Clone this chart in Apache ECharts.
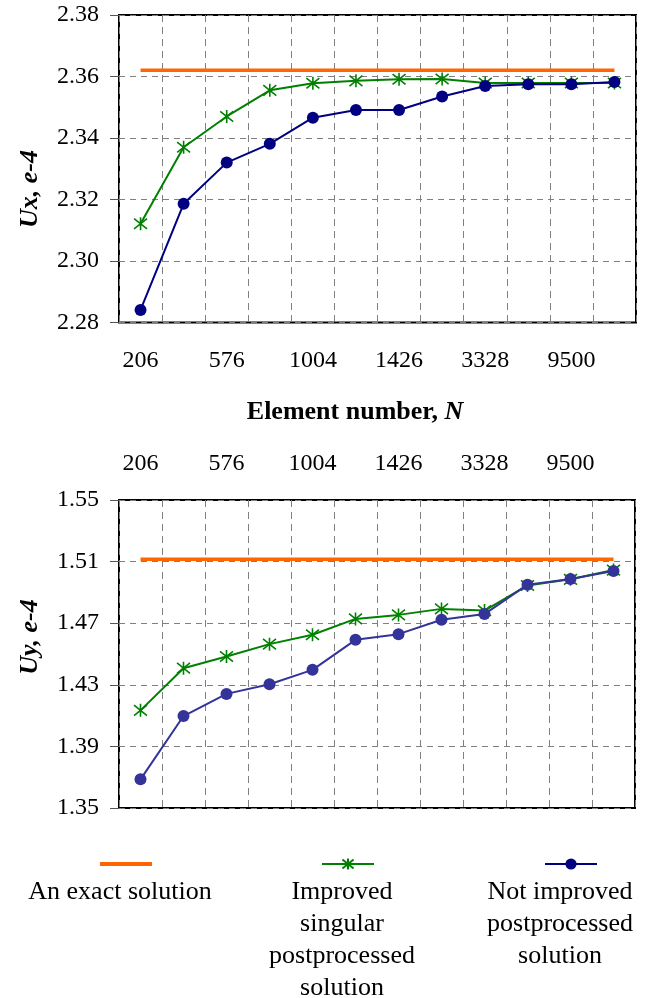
<!DOCTYPE html>
<html>
<head>
<meta charset="utf-8">
<script src="https://cdn.jsdelivr.net/npm/echarts@6/dist/echarts.min.js"></script>
<style>
  html, body { margin: 0; padding: 0; background: #fff; }
  #chart { width: 645px; height: 998px; }
</style>
</head>
<body>
<div id="chart"></div>
<script>
// element numbers (only every other one is labelled in the figure)
const categories = ['206', '', '576', '', '1004', '', '1426', '', '3328', '', '9500', ''];

// Ux, e-4
const uxExact = [2.362, 2.362, 2.362, 2.362, 2.362, 2.362, 2.362, 2.362, 2.362, 2.362, 2.362, 2.362];
const uxImproved = [2.3121, 2.3370, 2.3470, 2.3555, 2.3578, 2.3586, 2.3591, 2.3592, 2.3579, 2.3579, 2.3579, 2.3579];
const uxNotImproved = [2.2841, 2.3186, 2.3320, 2.3381, 2.3466, 2.3491, 2.3491, 2.3535, 2.3569, 2.3575, 2.3575, 2.3582];

// Uy, e-4
const uyExact = [1.5115, 1.5115, 1.5115, 1.5115, 1.5115, 1.5115, 1.5115, 1.5115, 1.5115, 1.5115, 1.5115, 1.5115];
const uyImproved = [1.4134, 1.4408, 1.4484, 1.4564, 1.4625, 1.4728, 1.4754, 1.4793, 1.4782, 1.4945, 1.4985, 1.5045];
const uyNotImproved = [1.3686, 1.4097, 1.4241, 1.4304, 1.4397, 1.4592, 1.4629, 1.4722, 1.4759, 1.4950, 1.4987, 1.5039];

const names = ['An exact solution', 'Improved singular postprocessed solution', 'Not improved postprocessed solution'];

const FONT = '"Liberation Serif", "Times New Roman", serif';
const STAR = 'path://M1,1L9,9M9,1L1,9M5,0L5,10';
const dashV = { color: '#808080', width: 1, type: [7, 5] };
const dashH = { color: '#808080', width: 1, type: [6, 5] };

function xAxisFor(gridIndex, position) {
  return {
    type: 'category',
    gridIndex: gridIndex,
    position: position,
    data: categories,
    boundaryGap: true,
    axisLine: { show: false },
    axisTick: { show: false },
    axisLabel: { interval: 0, margin: position === 'top' ? 24 : 26, fontFamily: FONT, fontSize: 24, color: '#000' },
    splitLine: { show: true, interval: 0, lineStyle: dashV }
  };
}

function yAxisFor(gridIndex, min, max, interval) {
  return {
    type: 'value',
    gridIndex: gridIndex,
    min: min,
    max: max,
    interval: interval,
    axisLine: { show: false },
    axisTick: { show: true, length: 9, inside: false, lineStyle: { color: '#555', width: 1 } },
    axisLabel: { margin: 20, fontFamily: FONT, fontSize: 24, color: '#000', formatter: v => v.toFixed(2) },
    splitLine: { show: true, lineStyle: dashH }
  };
}

function seriesFor(idx, exact, improved, notImproved, blue) {
  return [
    {
      name: names[0], type: 'line', xAxisIndex: idx, yAxisIndex: idx,
      data: exact, showSymbol: false, symbol: 'none',
      lineStyle: { color: '#ff6600', width: 3.5 }, itemStyle: { color: '#ff6600' }, z: 2
    },
    {
      name: names[1], type: 'line', xAxisIndex: idx, yAxisIndex: idx,
      data: improved, symbol: STAR, symbolSize: 13,
      lineStyle: { color: '#008000', width: 2 },
      itemStyle: { color: '#008000', borderColor: '#008000', borderWidth: 1.6 }, z: 3
    },
    {
      name: names[2], type: 'line', xAxisIndex: idx, yAxisIndex: idx,
      data: notImproved, symbol: 'circle', symbolSize: 12,
      lineStyle: { color: blue, width: 2 }, itemStyle: { color: blue }, z: 4
    }
  ];
}

function legendFor(item, left, top, itemHeight) {
  return {
    data: [item], left: left, top: top, itemWidth: 52, itemHeight: itemHeight,
    selectedMode: false, formatter: () => '', textStyle: { fontSize: 1 }
  };
}

const legendText = (text, x) => ({
  type: 'text', x: x, y: 876,
  style: { text: text, font: '26px ' + FONT, fill: '#000', align: 'center', verticalAlign: 'top', lineHeight: 32 }
});

const myChart = echarts.init(document.getElementById('chart'), null, { renderer: 'canvas' });
myChart.setOption({
  animation: false,
  backgroundColor: '#fff',
  grid: [
    { left: 119, top: 15, width: 517, height: 307.5, show: true, borderColor: '#000', borderWidth: 2, backgroundColor: 'transparent' },
    { left: 119, top: 500, width: 516, height: 308, show: true, borderColor: '#000', borderWidth: 2, backgroundColor: 'transparent' }
  ],
  xAxis: [xAxisFor(0, 'bottom'), xAxisFor(1, 'top')],
  yAxis: [yAxisFor(0, 2.28, 2.38, 0.02), yAxisFor(1, 1.35, 1.55, 0.04)],
  legend: [
    legendFor({ name: names[0], icon: 'rect' }, 95, 857, 4),
    legendFor(names[1], 316, 852, 14),
    legendFor(names[2], 539, 852, 14)
  ],
  series: []
    .concat(seriesFor(0, uxExact, uxImproved, uxNotImproved, '#000080'))
    .concat(seriesFor(1, uyExact, uyImproved, uyNotImproved, '#333399')),
  graphic: [
    {
      type: 'text', x: 30, y: 189, rotation: Math.PI / 2,
      style: { text: 'Ux, e-4', font: 'italic bold 26px ' + FONT, fill: '#000', align: 'center', verticalAlign: 'middle' }
    },
    {
      type: 'text', x: 30, y: 637, rotation: Math.PI / 2,
      style: { text: 'Uy, e-4', font: 'italic bold 26px ' + FONT, fill: '#000', align: 'center', verticalAlign: 'middle' }
    },
    {
      type: 'text', x: 355, y: 412,
      style: {
        text: '{a|Element number, }{b|N}', align: 'center', verticalAlign: 'middle', fill: '#000',
        rich: {
          a: { fontFamily: FONT, fontWeight: 'bold', fontSize: 26 },
          b: { fontFamily: FONT, fontWeight: 'bold', fontStyle: 'italic', fontSize: 26 }
        }
      }
    },
    legendText('An exact solution', 120),
    legendText('Improved\nsingular\npostprocessed\nsolution', 342),
    legendText('Not improved\npostprocessed\nsolution', 560)
  ]
});
window.onresize = function () {
  myChart.resize();
};
</script>
</body>
</html>
